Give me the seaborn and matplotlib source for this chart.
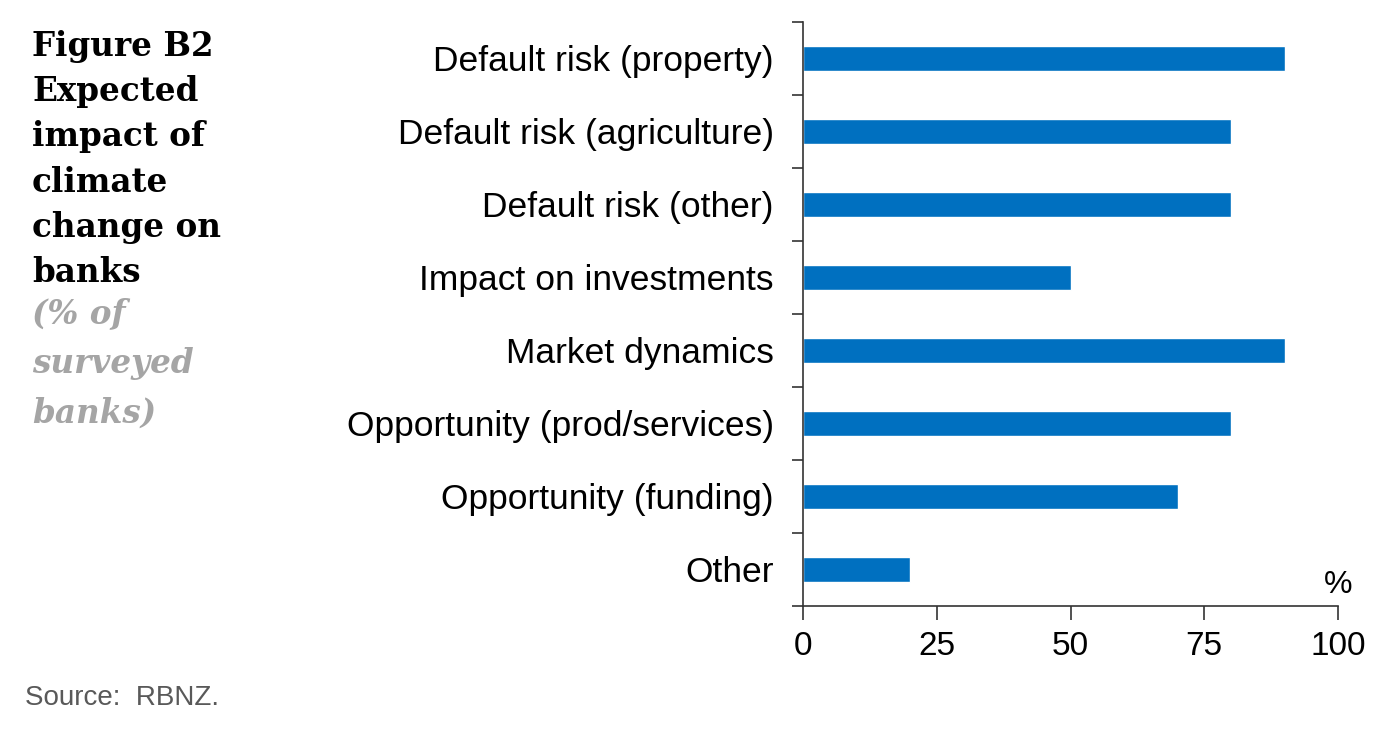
import matplotlib
matplotlib.use("Agg")
import matplotlib.pyplot as plt
import seaborn as sns
import pandas as pd

categories = [
    "Default risk (property)",
    "Default risk (agriculture)",
    "Default risk (other)",
    "Impact on investments",
    "Market dynamics",
    "Opportunity (prod/services)",
    "Opportunity (funding)",
    "Other",
]
values = [90, 80, 80, 50, 90, 80, 70, 20]
x_ticks = [0, 25, 50, 75, 100]

df = pd.DataFrame({"category": categories, "value": values})

sns.set_theme(style="white")
plt.rcParams["font.family"] = ["Liberation Sans", "DejaVu Sans"]
plt.rcParams["text.color"] = "black"
plt.rcParams["xtick.color"] = "#333333"
plt.rcParams["ytick.color"] = "#333333"
plt.rcParams["xtick.labelcolor"] = "black"
plt.rcParams["ytick.labelcolor"] = "black"

fig = plt.figure(figsize=(13.9, 7.29), dpi=100)
ax = fig.add_axes([0.5777, 0.169, 0.3849, 0.801])

sns.barplot(data=df, x="value", y="category", orient="h", color="#0070C0",
            saturation=1, width=0.35, ax=ax)

ax.set_xlim(0, 100)
ax.set_ylim(len(categories) - 0.5, -0.5)
ax.set_xticks(x_ticks)
ax.set_xticklabels([str(t) for t in x_ticks], fontsize=24)
ax.set_xlabel("")
ax.set_ylabel("")

ax.set_yticks(range(len(categories)))
ax.set_yticklabels(categories, fontsize=25.5)
ax.set_yticks([i - 0.5 for i in range(len(categories) + 1)], minor=True)
ax.tick_params(axis="y", which="major", left=True, length=0, pad=21)
ax.tick_params(axis="y", which="minor", left=True, length=8, width=1.2, direction="out")
ax.tick_params(axis="x", which="major", bottom=True, length=10, width=1.2, direction="out", pad=8)

for s in ["top", "right"]:
    ax.spines[s].set_visible(False)
for s in ["left", "bottom"]:
    ax.spines[s].set_color("#333333")
    ax.spines[s].set_linewidth(1.2)

ax.text(1.0, 0.01, "%", transform=ax.transAxes, fontsize=23, ha="center", va="bottom")

fig.text(0.023, 0.959,
         "Figure B2\nExpected\nimpact of\nclimate\nchange on\nbanks",
         fontsize=23.5, fontweight="bold", family=["DejaVu Serif"], va="top", ha="left",
         linespacing=1.47, color="black")
fig.text(0.023, 0.592, "(% of\nsurveyed\nbanks)", fontsize=23.5, fontweight="bold",
         fontstyle="italic", family=["DejaVu Serif"], va="top", ha="left",
         linespacing=1.64, color="#A5A5A5")

fig.text(0.018, 0.042, "Source:  RBNZ.", fontsize=20, color="#595959", ha="left", va="center")

fig.savefig("out.png", dpi=100)
